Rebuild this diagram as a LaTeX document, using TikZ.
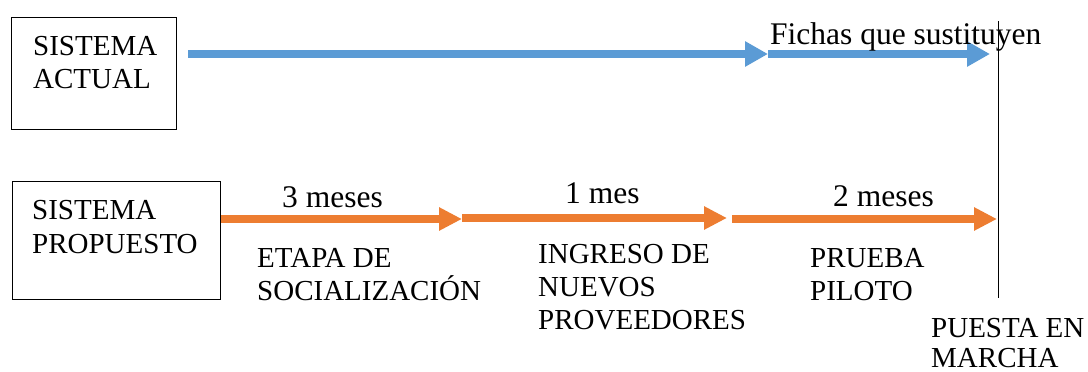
\documentclass[tikz,border=0pt]{standalone}
\usepackage{fontspec}
\setmainfont{Liberation Serif}
\usetikzlibrary{arrows.meta}
\definecolor{bluearr}{HTML}{5B9BD5}
\definecolor{orangearr}{HTML}{ED7D31}
\tikzset{
  captext/.style={font=\rmfamily\fontsize{29}{33}\selectfont, inner sep=0pt, anchor=base west},
  lowtext/.style={font=\rmfamily\fontsize{31.5}{36}\selectfont, inner sep=0pt, anchor=base west},
  sysbox/.style={draw=black, line width=0.9pt, inner sep=0pt},
  bluearrow/.style={draw=bluearr, line width=7.5pt, -{Triangle[length=23pt,width=24pt]}},
  orangearrow/.style={draw=orangearr, line width=7.5pt, -{Triangle[length=23pt,width=22pt]}},
  milestone/.style={draw=black, line width=1pt}
}
\begin{document}
\begin{tikzpicture}[x=1pt,y=-1pt]
\useasboundingbox (0,0) rectangle (1088,372);
% boxes
\node[sysbox, minimum width=165pt, minimum height=112pt, anchor=north west] (actual) at (11,17) {};
\node[sysbox, minimum width=208pt, minimum height=118pt, anchor=north west] (propuesto) at (12,181) {};
\node[captext] (t1) at (33,55) {SISTEMA};
\node[captext] (t2) at (33,88) {ACTUAL};
\node[captext] (t3) at (32,219) {SISTEMA};
\node[captext] (t4) at (32,253) {PROPUESTO};
% coordinates
\coordinate (b0) at (188,54);
\coordinate (b1) at (768,54);
\coordinate (b2) at (990,54);
\coordinate (o0) at (propuesto.east |- 0,219);
\coordinate (o1) at (462,219);
\coordinate (o1s) at (462,218);
\coordinate (o2) at (727,218);
\coordinate (o2s) at (732,219);
\coordinate (o3) at (997,219);
\coordinate (v0) at (998,21);
\coordinate (v1) at (998,298);
% arrows
\draw[bluearrow] (b0) -- (b1);
\draw[bluearrow] (b1) -- (b2);
\draw[orangearrow] (o0) -- (o1);
\draw[orangearrow] (o1s) -- (o2);
\draw[orangearrow] (o2s) -- (o3);
\draw[milestone] (v0) -- (v1);
% labels
\node[lowtext] (fichas) at (770,44) {Fichas que sustituyen};
\node[lowtext] (m3) at (282,207) {3 meses};
\node[lowtext] (m1) at (565,203) {1 mes};
\node[lowtext] (m2) at (833,206) {2 meses};
\node[captext] (e1) at (257,267) {ETAPA DE};
\node[captext] (e2) at (257,300) {SOCIALIZACIÓN};
\node[captext] (i1) at (538,263) {INGRESO DE};
\node[captext] (i2) at (538,296) {NUEVOS};
\node[captext] (i3) at (538,329) {PROVEEDORES};
\node[captext] (p1) at (810,267) {PRUEBA};
\node[captext] (p2) at (810,300) {PILOTO};
\node[captext] (f1) at (931,337) {PUESTA EN};
\node[captext] (f2) at (931,367) {MARCHA};
\end{tikzpicture}
\end{document}
